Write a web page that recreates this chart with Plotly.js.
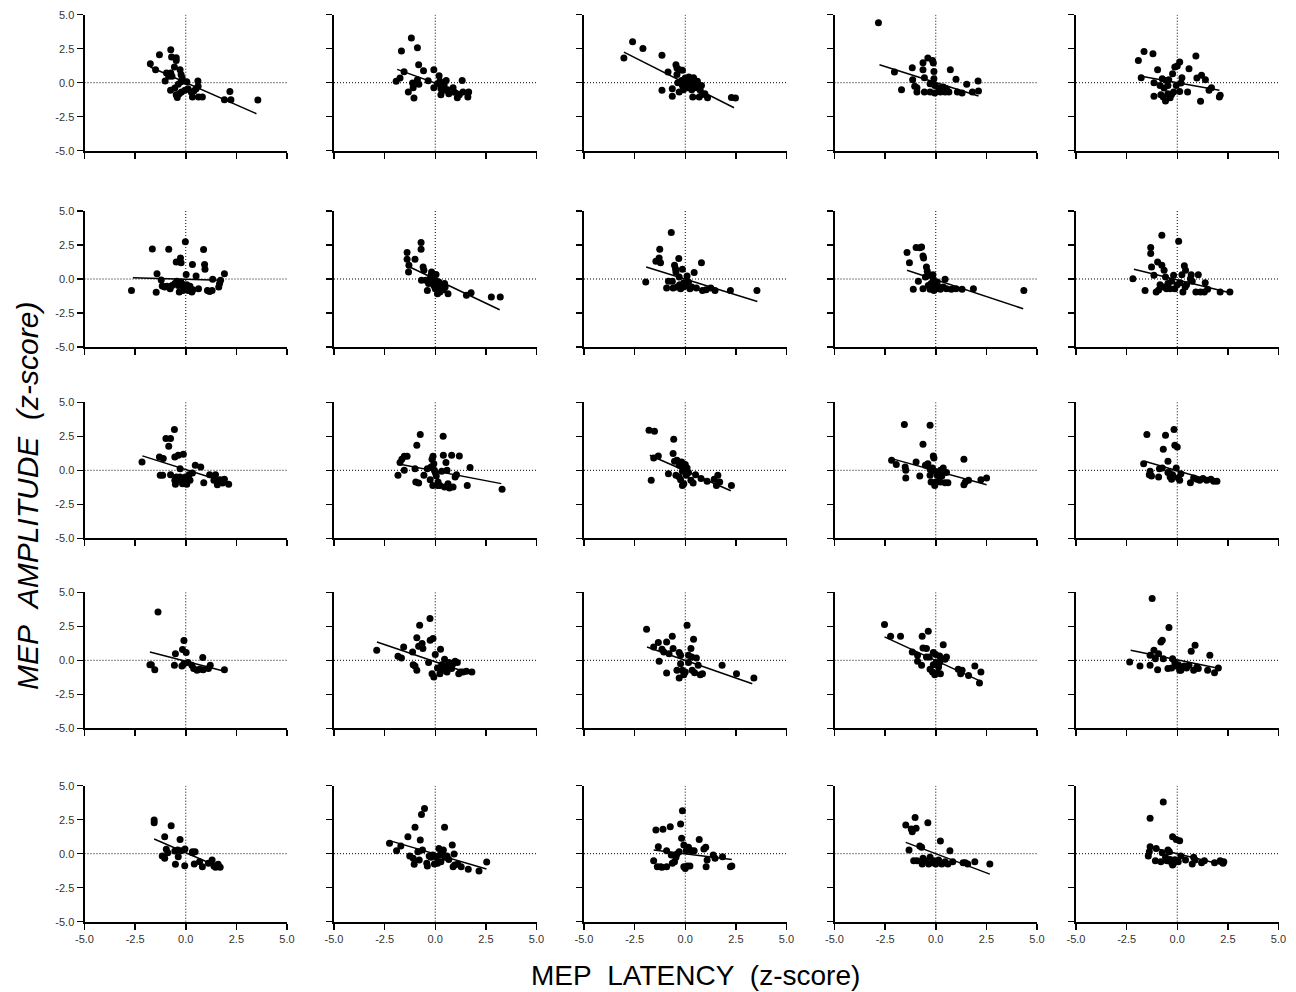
<!DOCTYPE html>
<html>
<head>
<meta charset="utf-8">
<script src="https://cdn.plot.ly/plotly-3.0.1.min.js"></script>
<style>html,body{margin:0;padding:0;background:#fff;}#chart{width:1296px;height:992px;}</style>
</head>
<body>
<div id="chart"></div>
<script>
// ---- data: MEP latency (x) and MEP amplitude (y), z-scores, one pair per panel (row-major) ----
const lat01 = [-1.75,-1.49,-1.30,-0.74,-0.70,-0.47,-0.47,-0.56,-1.02,-0.95,-0.84,-0.74,-0.68,-0.28,-0.23,-0.18,-0.23,0.05,-0.75,-0.54,-0.47,-0.42,-0.32,-0.21,-0.04,0.11,0.28,0.33,0.40,0.51,0.60,0.61,0.63,0.82,1.91,2.18,2.23,3.56,-0.37];
const amp01 = [1.40,0.96,2.06,2.43,1.89,1.84,1.64,1.15,0.12,0.71,0.47,0.71,0.47,0.96,0.61,0.37,0.07,0.07,-0.56,-0.39,-0.88,-1.08,-0.81,-0.69,-0.56,-0.44,-0.71,-1.05,-0.61,-0.44,0.12,-0.27,-1.05,-1.05,-1.25,-0.64,-1.25,-1.27,-0.12];
const lat02 = [-1.93,-1.74,-1.67,-1.54,-1.33,-1.18,-1.12,-1.05,-1.09,-0.88,-0.82,-0.88,-0.81,-0.58,-0.35,-0.07,-0.07,0.19,0.23,0.28,0.28,0.44,0.54,0.60,0.67,0.49,0.88,0.95,1.09,1.19,1.33,1.37,1.61,1.65,0.11];
const amp02 = [0.10,0.34,2.33,0.81,-0.69,3.28,-0.02,-1.13,-0.37,2.57,1.32,0.22,-0.12,0.88,0.15,0.96,-0.37,0.51,0.10,-0.44,-0.88,-0.15,0.17,-0.51,-0.81,-0.56,-0.37,-0.71,-1.10,-0.88,0.17,-0.69,-1.05,-0.69,-0.07];
const lat03 = [-3.03,-2.60,-2.09,-1.15,-1.15,-0.85,-0.64,-0.64,-0.46,-0.41,-0.41,-0.37,-0.28,-0.14,-0.30,-0.09,-0.18,0.00,0.09,0.14,0.18,0.28,0.32,0.37,0.41,0.46,0.55,0.60,0.69,0.74,0.80,0.85,0.97,1.10,-0.14,0.16,2.28,2.48];
const amp03 = [1.81,3.01,2.52,2.01,-0.56,0.78,-0.44,-1.00,1.32,1.08,0.61,0.00,0.96,0.91,-0.69,-0.51,0.17,0.34,-0.37,0.10,0.42,0.05,-0.51,-1.05,0.37,-0.20,-0.37,0.10,-1.05,-0.56,-0.20,-0.86,-0.81,-1.10,-0.20,-0.27,-1.08,-1.13];
const lat04 = [-2.83,-2.04,-1.69,-1.16,-1.14,-1.04,-0.93,-0.93,-0.63,-0.63,-0.56,-0.56,-0.39,-0.28,-0.16,-0.12,-0.09,-0.09,-0.05,-0.05,0.14,0.23,0.37,0.46,0.53,0.65,0.72,1.00,1.07,1.30,1.53,1.81,2.09,2.11,-0.28,0.26];
const amp04 = [4.41,0.78,-0.51,1.10,0.22,-0.27,-0.37,-0.69,1.47,0.96,0.37,-0.69,1.81,-0.69,1.64,1.45,0.83,0.29,-0.20,-0.76,-0.37,-0.69,-0.32,-0.69,-0.44,-0.69,0.96,0.25,-0.69,-0.76,-0.12,-0.69,0.12,-0.61,-0.07,-0.51];
const lat05 = [-1.92,-1.64,-1.78,-1.20,-1.15,-1.15,-0.97,-0.85,-0.81,-0.74,-0.69,-0.65,-0.58,-0.53,-0.46,-0.42,-0.35,-0.28,-0.23,-0.18,-0.12,-0.05,0.00,0.12,0.12,0.18,0.23,0.51,0.58,0.92,0.97,1.15,1.20,1.39,1.57,1.69,2.08,2.12,-0.46];
const amp05 = [1.64,2.30,0.37,2.13,0.00,-1.00,0.96,-0.20,-0.88,0.29,-1.05,-0.39,-1.35,0.17,-0.81,0.22,-1.10,-0.86,0.66,-0.69,1.15,-0.20,1.23,1.52,-0.64,-0.02,0.37,-0.69,1.03,1.96,0.34,-1.37,0.54,0.22,-0.56,-0.37,-1.05,-0.93,-0.20];

const lat06 = [-2.68,-1.65,-1.46,-1.42,-1.21,-1.16,-1.04,-0.93,-0.84,-0.77,-0.68,-0.54,-0.47,-0.44,-0.37,-0.32,-0.26,-0.25,-0.23,-0.19,-0.14,-0.09,-0.02,0.02,0.05,0.12,0.21,0.30,0.33,0.35,0.51,0.63,0.88,0.93,0.95,1.07,1.18,1.33,1.63,1.67,1.72,1.91,1.30];
const amp06 = [-0.84,2.21,-0.98,0.39,-0.07,-0.52,-0.59,-0.54,2.19,-0.71,-0.47,-0.34,1.25,-0.17,-0.47,-0.96,1.55,-0.22,1.20,-0.34,-0.84,-0.59,2.73,0.34,-0.42,-0.84,-0.54,-0.96,1.06,-0.79,0.22,-0.71,2.16,1.06,0.71,-0.84,-0.91,-0.02,-0.59,-0.34,-0.10,0.39,-0.84];
const lat07 = [-1.39,-1.39,-1.32,-1.30,-1.00,-0.70,-0.70,-0.68,-0.60,-0.56,-0.46,-0.39,-0.33,-0.26,-0.21,-0.18,-0.14,-0.11,-0.07,-0.04,0.00,0.04,0.07,0.11,0.14,0.18,0.23,0.32,0.40,0.46,0.49,0.63,1.54,1.77,2.77,3.21];
const amp07 = [1.94,1.45,0.52,1.01,1.45,2.68,2.19,-0.10,0.88,0.64,-0.10,-0.84,-0.34,0.02,0.27,0.52,-0.27,0.02,-0.47,0.27,-0.71,0.34,-0.17,-1.08,-0.52,-0.22,-0.96,-0.42,-0.79,-0.34,-0.59,-1.08,-1.20,-1.01,-1.33,-1.33];
const lat08 = [-1.95,-1.45,-1.29,-1.26,-1.22,-0.92,-0.83,-0.69,-0.64,-0.60,-0.53,-0.48,-0.46,-0.41,-0.32,-0.30,-0.28,-0.23,-0.14,-0.09,0.00,0.09,0.16,0.23,0.32,0.44,0.55,0.80,0.85,1.03,1.26,1.47,2.23,3.54,-0.07];
const amp08 = [-0.22,1.30,1.55,2.19,1.20,-0.66,-0.17,3.42,-0.17,-0.66,1.01,0.76,0.52,-0.59,1.50,0.15,-0.42,-0.71,0.71,-0.59,-0.47,0.22,-0.22,-0.71,-0.59,0.47,-0.66,1.20,-0.84,-0.79,-0.66,-0.84,-0.84,-0.84,-0.27];
const lat09 = [-1.42,-1.30,-1.11,-0.97,-0.86,-0.79,-0.70,-0.63,-0.60,-0.63,-0.51,-0.46,-0.42,-0.37,-0.32,-0.28,-0.23,-0.19,-0.14,-0.09,-0.05,0.00,0.07,0.14,0.23,0.37,0.46,0.53,0.77,1.00,1.30,1.86,4.35,-0.12];
const amp09 = [1.94,1.20,-0.76,2.31,-0.17,2.29,2.36,1.70,1.55,-0.71,0.15,0.88,0.57,-0.47,0.27,-0.76,-0.34,-0.59,0.32,-0.84,-0.27,-0.71,-0.22,-0.59,-0.76,-0.59,-0.02,-0.71,-0.76,-0.71,-0.76,-0.71,-0.84,-0.02];
const lat10 = [-2.19,-1.59,-1.31,-1.31,-1.27,-1.15,-1.04,-0.97,-0.92,-0.85,-0.76,-0.76,-0.69,-0.65,-0.58,-0.53,-0.46,-0.35,-0.28,-0.18,-0.12,0.00,0.07,0.14,0.23,0.28,0.35,0.39,0.46,0.65,0.69,0.74,0.92,1.04,1.15,1.34,1.38,1.50,2.12,2.60,0.41];
const amp10 = [0.02,-0.84,1.87,2.31,0.88,0.27,-0.96,1.25,-0.81,-0.42,3.22,1.01,-0.59,0.64,0.15,-0.71,-0.34,-0.71,-0.17,0.27,-0.71,-0.42,2.78,-0.27,0.32,-0.96,0.98,-0.59,-0.42,0.02,0.32,-0.17,-0.96,0.32,-0.96,-0.96,-0.27,-0.76,-0.96,-0.96,0.64];

const lat11 = [-2.16,-1.30,-1.26,-1.14,-1.11,-0.98,-0.84,-0.75,-0.75,-0.56,-0.54,-0.54,-0.51,-0.46,-0.37,-0.37,-0.28,-0.28,-0.16,-0.12,-0.11,-0.05,-0.02,0.05,0.11,0.16,0.21,0.33,0.47,0.74,0.89,1.18,1.39,1.47,1.56,1.70,1.82,1.91,2.12];
const amp11 = [0.61,0.98,-0.37,-0.37,0.86,2.33,1.77,2.33,-0.32,3.00,0.98,-0.74,-1.03,-0.49,1.11,-0.74,0.12,-0.49,-0.98,1.18,-0.74,-0.86,-0.49,-1.03,-0.69,-0.32,-0.74,-0.20,0.37,0.25,-0.91,-0.32,-0.74,-0.32,-1.06,-0.69,-0.93,-0.66,-1.03];
const lat12 = [-1.84,-1.74,-1.65,-1.53,-1.53,-1.39,-1.00,-0.96,-0.91,-0.82,-0.74,-0.56,-0.39,-0.25,-0.21,-0.16,-0.12,-0.11,-0.07,-0.04,0.00,0.05,0.11,0.14,0.23,0.32,0.39,0.40,0.46,0.53,0.63,0.70,0.81,0.88,0.98,1.05,1.19,1.58,1.72,3.30,0.58];
const amp12 = [-0.37,0.57,0.81,1.03,0.00,1.03,0.12,-0.86,1.84,-0.93,2.63,-0.37,0.12,-0.69,0.25,0.81,-1.11,1.03,0.49,0.00,-0.17,-0.42,-1.11,-0.86,-1.11,-0.07,2.51,1.11,-1.23,0.57,-0.98,-1.30,1.11,-1.23,-0.49,-0.32,1.06,-1.11,0.20,-1.40,0.00];
const lat13 = [-1.79,-1.68,-1.56,-1.52,-1.33,-0.83,-0.60,-0.57,-0.53,-0.46,-0.41,-0.30,-0.30,-0.23,-0.18,-0.14,-0.14,-0.07,-0.07,0.00,0.05,0.09,0.16,0.28,0.39,0.51,0.78,1.08,1.43,1.54,1.61,1.70,2.28,-0.11];
const amp13 = [2.95,-0.74,0.91,2.87,1.06,-0.25,1.23,2.28,0.66,-0.37,0.74,-0.49,0.37,-0.69,0.61,-0.07,-1.11,0.12,-0.98,0.42,-0.37,0.17,-0.17,-0.74,-0.93,-0.32,-0.61,-0.81,-0.66,-1.11,-0.37,-0.86,-1.11,0.17];
const lat14 = [-2.18,-1.95,-1.55,-1.51,-1.48,-1.48,-0.97,-0.79,-0.63,-0.51,-0.39,-0.28,-0.28,-0.28,-0.23,-0.16,-0.12,-0.09,-0.05,-0.05,0.00,0.07,0.14,0.19,0.23,0.30,0.37,0.46,0.53,0.60,1.39,1.39,1.46,1.62,2.23,2.51,0.23];
const amp14 = [0.74,0.42,3.37,0.25,-0.57,0.00,0.61,-0.42,1.92,0.37,0.49,3.32,0.07,-0.37,-0.86,0.17,1.06,0.91,-0.07,-1.11,-0.86,-0.37,-0.17,-0.49,-0.86,-0.42,0.17,-0.91,-0.17,-0.91,0.81,-1.06,-0.86,-0.74,-0.69,-0.57,0.00];
const lat15 = [-1.66,-1.50,-1.38,-1.34,-1.27,-0.92,-0.88,-0.74,-0.69,-0.58,-0.46,-0.41,-0.35,-0.28,-0.23,-0.16,-0.12,-0.05,0.00,0.05,0.12,0.18,0.65,0.81,0.97,1.11,1.27,1.45,1.66,1.80,1.96,-0.46];
const amp15 = [0.49,2.63,-0.32,-0.07,-0.42,-0.49,0.12,0.17,1.55,2.58,0.66,-0.17,-0.49,-0.66,-0.32,3.00,1.84,0.17,1.72,-0.57,-0.74,-0.25,-0.91,-0.57,-0.66,-0.74,-0.61,-0.74,-0.66,-0.81,-0.81,-0.17];

const lat16 = [-1.77,-1.70,-1.53,-1.37,-0.56,-0.51,-0.19,-0.16,-0.09,-0.09,0.02,0.11,0.30,0.39,0.56,0.68,0.84,0.86,1.12,1.21,1.91];
const amp16 = [-0.32,-0.32,-0.69,3.56,-0.37,0.49,-0.42,0.79,1.45,-0.25,0.57,-0.17,-0.37,-0.61,-0.74,-0.66,0.20,-0.69,-0.61,-0.37,-0.69];
const lat17 = [-2.89,-1.84,-1.67,-1.56,-1.12,-1.09,-1.00,-0.91,-0.91,-0.82,-0.77,-0.65,-0.61,-0.33,-0.26,-0.25,-0.16,-0.11,-0.07,0.00,0.11,0.23,0.26,0.32,0.39,0.46,0.49,0.58,0.67,0.74,0.81,0.88,0.98,1.09,1.16,1.25,1.37,1.54,1.81,0.40];
const amp17 = [0.74,0.29,0.17,0.98,0.61,-0.32,-0.42,1.65,-0.74,1.03,2.58,1.23,0.86,-0.17,3.07,1.47,-0.98,1.60,-1.23,0.42,-0.57,-0.98,0.81,-0.32,-0.74,0.07,-0.42,-0.86,-0.17,-0.49,-0.61,-0.25,-0.07,-0.17,-0.98,-0.86,-0.86,-0.81,-0.86,-0.49];
const lat18 = [-1.91,-1.56,-1.33,-1.29,-1.15,-1.06,-0.92,-0.92,-0.80,-0.64,-0.60,-0.41,-0.30,-0.30,-0.23,-0.23,-0.14,-0.07,0.00,0.09,0.16,0.28,0.32,0.34,0.41,0.46,0.55,0.64,0.74,0.85,1.82,2.53,3.39,0.16];
const amp18 = [2.28,0.98,1.30,-0.07,0.81,0.61,1.35,-0.93,0.49,1.77,0.86,-0.74,0.57,-1.30,0.37,-0.25,-0.74,-1.06,-0.86,2.58,0.37,0.86,0.25,-0.74,1.55,-0.91,0.17,-0.37,-1.06,-0.98,-0.37,-0.98,-1.30,-0.17];
const lat19 = [-2.53,-2.23,-1.74,-1.16,-0.90,-0.90,-0.67,-0.70,-0.63,-0.46,-0.46,-0.37,-0.32,-0.28,-0.16,-0.12,-0.12,-0.05,0.00,0.02,0.07,0.14,0.19,0.23,0.30,0.37,0.46,0.53,1.11,1.23,1.30,1.62,1.93,2.16,2.23,0.19];
const amp19 = [2.63,1.77,1.77,0.61,0.37,-0.07,1.77,-0.37,0.91,0.86,0.25,2.14,0.25,-0.66,-0.86,0.57,-0.32,-1.06,0.42,-0.17,-0.91,-0.49,0.32,-0.98,0.12,1.15,0.07,0.25,-0.66,-0.98,-0.74,-1.11,-0.42,-1.67,-0.86,-0.17];
const lat20 = [-2.35,-1.84,-1.34,-1.34,-1.24,-1.15,-1.08,-0.97,-0.92,-0.81,-0.74,-0.69,-0.46,-0.41,-0.28,-0.23,-0.12,-0.05,0.05,0.12,0.23,0.35,0.46,0.58,0.69,0.81,0.88,0.97,1.04,1.50,1.61,1.84,2.03,0.18];
const amp20 = [-0.12,-0.42,-0.37,0.37,4.55,0.74,0.12,-0.69,0.49,1.35,1.47,0.12,-0.61,2.41,-0.57,0.12,-0.17,-0.42,-0.32,-0.74,-0.49,-0.42,-0.57,-0.37,0.66,-0.74,1.11,-0.49,-0.61,-0.74,0.37,-0.91,-0.57,-0.74];

const lat21 = [-1.56,-1.56,-1.16,-1.04,-1.04,-0.96,-0.89,-0.72,-0.54,-0.51,-0.40,-0.37,-0.28,-0.23,-0.04,-0.05,0.33,0.42,0.46,0.68,0.82,1.12,1.30,1.39,1.47,1.60,1.70,0.33];
const amp21 = [2.48,2.28,-0.17,1.25,-0.34,0.32,0.07,2.06,0.20,-0.78,0.27,-0.22,1.05,0.22,0.34,-0.88,0.07,-0.76,0.15,-0.59,-0.96,-0.71,-0.47,-0.91,-1.00,-0.78,-1.00,0.15];
const lat22 = [-2.26,-1.91,-1.70,-1.35,-1.26,-1.09,-1.04,-1.00,-0.86,-0.79,-0.74,-0.68,-0.63,-0.53,-0.42,-0.39,-0.30,-0.21,-0.12,-0.04,0.05,0.11,0.18,0.23,0.28,0.35,0.40,0.46,0.49,0.67,0.84,0.88,0.93,0.96,1.11,1.28,1.63,2.16,2.54,0.58];
const amp22 = [0.76,0.22,0.56,1.25,-0.17,-0.34,-0.78,1.94,0.15,-0.47,1.00,2.89,0.27,3.33,-0.71,-0.91,-0.17,-0.27,-0.10,-0.76,-0.27,-0.71,0.39,-0.10,-0.59,0.15,0.27,1.94,-0.27,-0.42,0.64,-0.96,-0.02,-0.83,-0.76,-0.96,-1.15,-1.27,-0.61,-0.17];
const lat23 = [-1.56,-1.45,-1.38,-1.33,-1.22,-1.15,-1.10,-0.92,-0.92,-0.74,-0.69,-0.64,-0.53,-0.46,-0.41,-0.30,-0.23,-0.18,-0.14,-0.07,-0.07,0.00,0.05,0.09,0.16,0.23,0.32,0.44,0.69,0.92,1.01,1.08,1.03,1.38,1.47,1.84,2.23,2.30];
const amp23 = [-0.51,1.74,-0.96,0.51,-0.96,-1.00,1.79,-0.96,0.22,1.99,-0.10,-0.71,-0.59,-0.27,-0.02,0.15,2.18,1.13,3.16,0.64,-0.96,-1.08,0.22,-0.91,0.47,-0.91,0.22,0.22,1.05,0.34,0.47,-0.47,-0.96,-0.10,-0.34,-0.22,-0.96,-0.91];
const lat24 = [-1.48,-1.32,-1.21,-1.16,-1.09,-1.02,-0.97,-0.93,-0.79,-0.70,-0.67,-0.63,-0.51,-0.39,-0.35,-0.28,-0.16,-0.09,0.00,0.14,0.23,0.30,0.46,0.60,0.70,0.84,1.35,1.46,1.58,1.93,2.67,-0.05];
const amp24 = [2.11,0.27,1.81,1.62,-0.51,2.67,1.87,-0.51,0.56,0.47,-0.76,-0.34,-0.51,2.28,-0.76,-0.27,-0.66,-0.51,-0.76,-0.47,0.93,-0.76,-0.59,-0.76,0.22,-0.59,-0.66,-0.66,-0.76,-0.59,-0.76,-0.59];
const lat25 = [-1.43,-1.38,-1.34,-1.34,-1.08,-1.04,-0.81,-0.74,-0.69,-0.58,-0.51,-0.46,-0.39,-0.35,-0.28,-0.23,-0.18,-0.12,-0.05,0.00,0.05,0.12,0.18,0.41,0.74,0.81,0.88,1.20,1.34,1.84,2.12,2.26,2.30,-0.23];
const amp25 = [-0.17,0.15,2.60,0.51,-0.51,0.39,-0.59,0.07,3.80,-0.27,-0.51,0.27,0.15,-0.42,-0.66,1.25,-0.71,-0.44,1.05,-0.51,-0.59,0.96,-0.17,-0.47,-0.76,-0.27,-0.47,-0.66,-0.51,-0.66,-0.51,-0.71,-0.59,-0.83];

// regression line end points per panel
const fitX0 = [-1.75,-1.88,-3.03,-2.78,-1.78, -2.61,-1.26,-1.93,-1.42,-2.14, -2.14,-1.74,-1.75,-2.18,-1.61, -1.77,-2.88,-1.89,-2.53,-2.30, -1.56,-2.26,-1.56,-1.48,-1.43];
const fitY0 = [1.15,0.98,2.25,1.32,0.47, 0.10,0.88,0.88,0.64,0.71, 1.06,0.44,1.11,0.86,0.66, 0.61,1.35,0.98,1.72,0.74, 1.08,0.96,0.27,0.83,0.51];
const fitX1 = [3.49,1.46,2.41,2.11,2.08, 1.70,3.18,3.56,4.32,2.60, 1.95,3.26,2.25,2.51,1.91, 1.91,1.20,3.31,2.23,2.08, 1.60,2.53,2.30,2.67,2.30];
const fitY1 = [-2.28,-0.81,-1.84,-0.98,-0.56, -0.10,-2.26,-1.65,-2.19,-1.01, -0.86,-0.98,-1.50,-1.06,-0.86, -0.81,-0.71,-1.72,-1.55,-0.61, -0.96,-1.13,-0.42,-1.50,-0.83];

const tickVals = [-5, -2.5, 0, 2.5, 5];
const tickText = ['-5.0', '-2.5', '0.0', '2.5', '5.0'];

const latSets = [lat01,lat02,lat03,lat04,lat05,lat06,lat07,lat08,lat09,lat10,lat11,lat12,lat13,lat14,lat15,lat16,lat17,lat18,lat19,lat20,lat21,lat22,lat23,lat24,lat25];
const ampSets = [amp01,amp02,amp03,amp04,amp05,amp06,amp07,amp08,amp09,amp10,amp11,amp12,amp13,amp14,amp15,amp16,amp17,amp18,amp19,amp20,amp21,amp22,amp23,amp24,amp25];

// ---- layout geometry (pixels) ----
const W = 1296, H = 992;
const colLeft = [84.5, 334, 584, 834.5, 1076];
const panelW = 202.5;
const rowTop = [14.7, 211, 402.3, 592.3, 785.7];
const panelH = 136;

const FONT = 'Liberation Sans, Arial, Helvetica, sans-serif';
const traces = [];
const layout = {
  width: W, height: H,
  margin: {l: 0, r: 0, t: 0, b: 0},
  paper_bgcolor: '#ffffff', plot_bgcolor: 'rgba(0,0,0,0)',
  showlegend: false,
  font: {family: FONT, color: '#000'},
  shapes: [], annotations: []
};

for (let k = 0; k < 25; k++) {
  const r = Math.floor(k / 5), c = k % 5;
  const sfx = k === 0 ? '' : String(k + 1);
  const xa = 'x' + sfx, ya = 'y' + sfx;
  layout['xaxis' + sfx] = {
    domain: [colLeft[c] / W, (colLeft[c] + panelW) / W],
    range: [-5, 5], anchor: ya,
    tickvals: tickVals, ticktext: tickText,
    showticklabels: r === 4,
    tickfont: {size: 11, color: '#333', family: FONT},
    showline: true, linecolor: '#000', linewidth: 2,
    ticks: 'outside', ticklen: 6, tickwidth: 1.5, tickcolor: '#000',
    showgrid: false, zeroline: false, fixedrange: true
  };
  layout['yaxis' + sfx] = {
    domain: [1 - (rowTop[r] + panelH) / H, 1 - rowTop[r] / H],
    range: [-5, 5], anchor: xa,
    tickvals: tickVals, ticktext: tickText,
    showticklabels: c === 0,
    tickfont: {size: 11, color: '#333', family: FONT},
    showline: true, linecolor: '#000', linewidth: 2,
    ticks: 'outside', ticklen: 6, tickwidth: 1.5, tickcolor: '#000',
    showgrid: false, zeroline: false, fixedrange: true
  };
  // dotted reference lines at zero
  layout.shapes.push({type: 'line', xref: xa, yref: ya, x0: 0, x1: 0, y0: -5, y1: 5,
    line: {color: '#000', width: 1, dash: '1px,2px'}, layer: 'below'});
  layout.shapes.push({type: 'line', xref: xa, yref: ya, x0: -5, x1: 5, y0: 0, y1: 0,
    line: {color: '#000', width: 1, dash: '1px,2px'}, layer: 'below'});

  traces.push({
    type: 'scatter', mode: 'markers', xaxis: xa, yaxis: ya,
    x: latSets[k], y: ampSets[k],
    marker: {color: '#000', size: 7, line: {width: 0}},
    hoverinfo: 'x+y', cliponaxis: false
  });
  traces.push({
    type: 'scatter', mode: 'lines', xaxis: xa, yaxis: ya,
    x: [fitX0[k], fitX1[k]], y: [fitY0[k], fitY1[k]],
    line: {color: '#000', width: 1.5}, hoverinfo: 'skip'
  });
}

layout.annotations.push({
  text: 'MEP\u00a0\u00a0AMPLITUDE\u00a0\u00a0(z-score)',
  xref: 'paper', yref: 'paper', x: 27 / W, y: 1 - 496 / H,
  xanchor: 'center', yanchor: 'middle', textangle: -90, showarrow: false,
  font: {size: 30, color: '#000', family: FONT, style: 'italic'}
});
layout.annotations.push({
  text: 'MEP\u00a0\u00a0LATENCY\u00a0\u00a0(z-score)',
  xref: 'paper', yref: 'paper', x: 695 / W, y: 1 - 975 / H,
  xanchor: 'center', yanchor: 'middle', showarrow: false,
  font: {size: 28, color: '#000', family: FONT}
});

Plotly.newPlot('chart', traces, layout, {displayModeBar: false, staticPlot: true});
</script>
</body>
</html>
